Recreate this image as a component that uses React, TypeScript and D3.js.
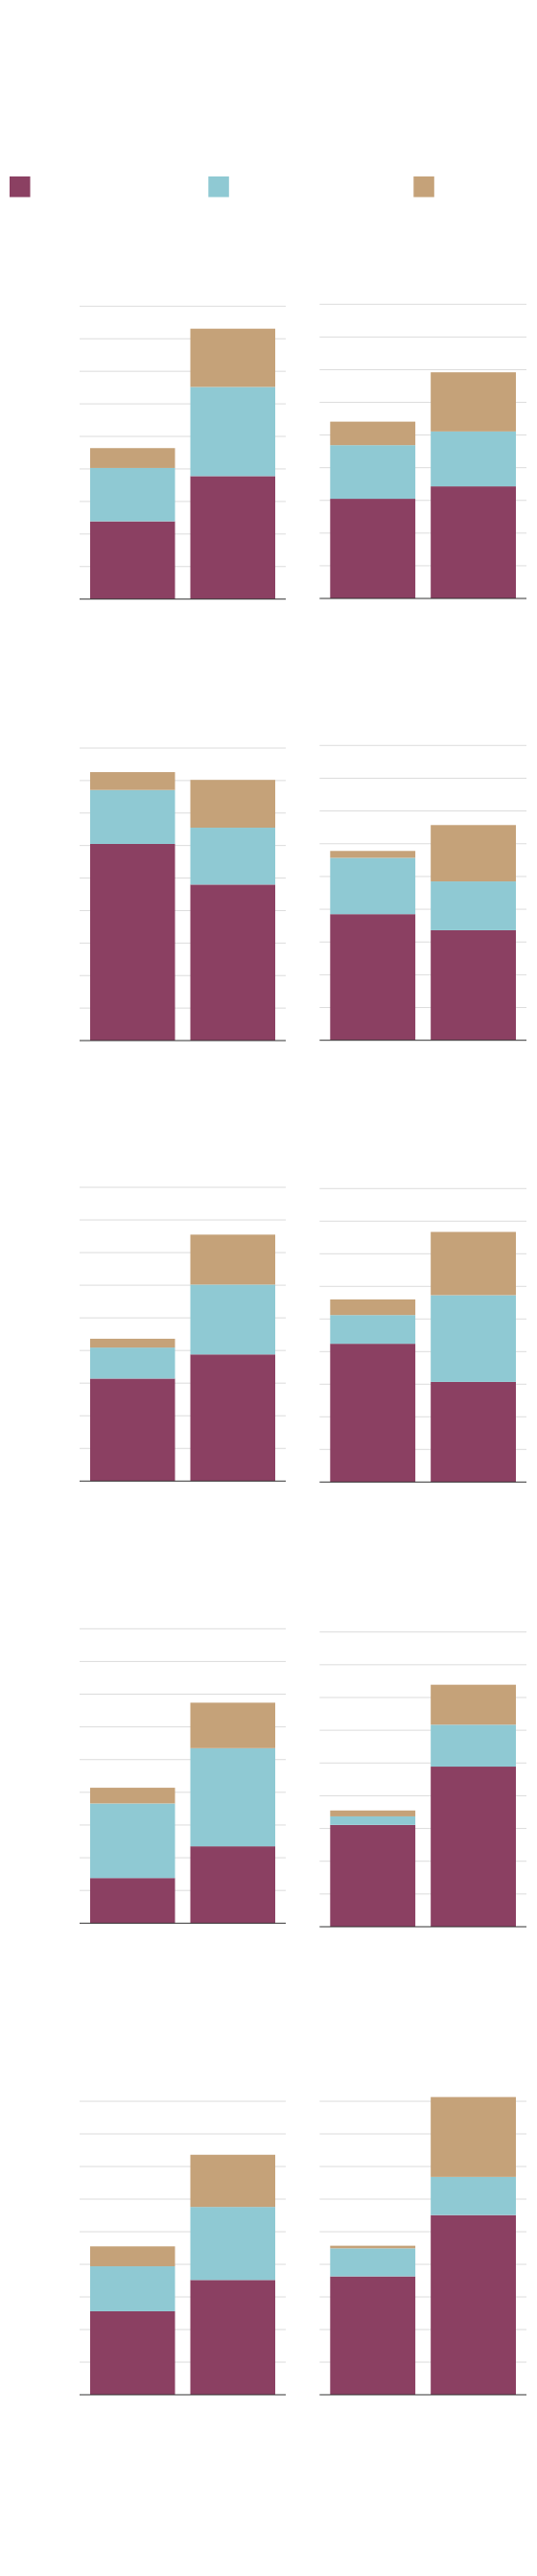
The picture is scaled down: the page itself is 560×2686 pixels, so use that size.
import React from "react";
import * as d3 from "d3";

// ---- data ----
const seriesKeys = ["first", "second", "third"];
const seriesColors = ["#8B4062", "#8FC9D3", "#C5A279"];
const panels = ["P1", "P2", "P3", "P4", "P5", "P6", "P7", "P8", "P9", "P10"];
const bars = ["A", "B"];
// values per panel: [bar A, bar B]
const firstValues = [
  [23.9, 37.8], [30.5, 34.3], [60.5, 48.0], [38.5, 33.6], [31.4, 38.8],
  [42.4, 30.7], [13.8, 23.5], [31.1, 48.9], [25.6, 35.2], [36.3, 55.1],
];
const secondValues = [
  [16.4, 27.4], [16.4, 16.8], [16.6, 17.5], [17.2, 14.9], [9.5, 21.4],
  [8.8, 26.6], [22.8, 30.0], [2.6, 12.8], [13.8, 22.4], [8.6, 11.7],
];
const thirdValues = [
  [6.1, 17.9], [7.2, 18.1], [5.5, 14.7], [2.1, 17.2], [2.7, 15.3],
  [4.8, 19.4], [4.8, 13.9], [1.8, 12.2], [6.1, 16.0], [0.8, 24.5],
];
const yDomain = [0, 90];
const tickCount = 9;

// ---- layout (positions only) ----
const panelLayout = [
  { x0: 83, x1: 298, top: 319.3, base: 624.7 },
  { x0: 333.3, x1: 549, top: 317.3, base: 624.0 },
  { x0: 83, x1: 298, top: 780.0, base: 1085.0 },
  { x0: 333.3, x1: 549, top: 777.3, base: 1084.7 },
  { x0: 83, x1: 298, top: 1238.0, base: 1544.3 },
  { x0: 333.3, x1: 549, top: 1239.3, base: 1545.3 },
  { x0: 83, x1: 298, top: 1698.3, base: 2005.3 },
  { x0: 333.3, x1: 549, top: 1701.7, base: 2009.0 },
  { x0: 83, x1: 298, top: 2191.0, base: 2497.0 },
  { x0: 333.3, x1: 549, top: 2191.0, base: 2497.0 },
];
const legendX = [10, 217.3, 431.3];
const legendY = 184;
const legendSize = 21.5;

const W = 560;
const H = 2686;

export default function App() {
  const valueSets = [firstValues, secondValues, thirdValues];
  return (
    <svg
      width={W}
      height={H}
      style={{ position: "absolute", left: 0, top: 0, background: "#fff" }}
      xmlns="http://www.w3.org/2000/svg"
    >
      <rect x={0} y={0} width={W} height={H} fill="#fff" />
      {seriesKeys.map((k, i) => (
        <rect
          key={k}
          x={legendX[i]}
          y={legendY}
          width={legendSize}
          height={legendSize}
          fill={seriesColors[i]}
        />
      ))}
      {panels.map((p, pi) => {
        const L = panelLayout[pi];
        const x = d3
          .scaleBand<string>()
          .domain(bars)
          .range([L.x0, L.x1])
          .paddingInner(0.153)
          .paddingOuter(0.105);
        const y = d3.scaleLinear().domain(yDomain).range([L.base, L.top]);
        const rows = bars.map((b, bi) => {
          const o: any = { bar: b };
          seriesKeys.forEach((k, si) => (o[k] = valueSets[si][pi][bi]));
          return o;
        });
        const stacked = d3.stack<any>().keys(seriesKeys)(rows);
        const ticks = y.ticks(tickCount);
        return (
          <g key={p}>
            {ticks
              .filter((t) => t !== 0)
              .map((t) => (
                <line
                  key={t}
                  x1={L.x0}
                  x2={L.x1}
                  y1={y(t)}
                  y2={y(t)}
                  stroke="#dcdcdc"
                  strokeWidth={1}
                />
              ))}
            {stacked.map((layer, si) => (
              <g key={layer.key} fill={seriesColors[si]}>
                {layer.map((d, bi) => (
                  <rect
                    key={bi}
                    x={x(bars[bi])}
                    width={x.bandwidth()}
                    y={y(d[1])}
                    height={y(d[0]) - y(d[1])}
                  />
                ))}
              </g>
            ))}
            <line
              x1={L.x0}
              x2={L.x1}
              y1={y(0)}
              y2={y(0)}
              stroke="#333"
              strokeWidth={1}
            />
          </g>
        );
      })}
    </svg>
  );
}
